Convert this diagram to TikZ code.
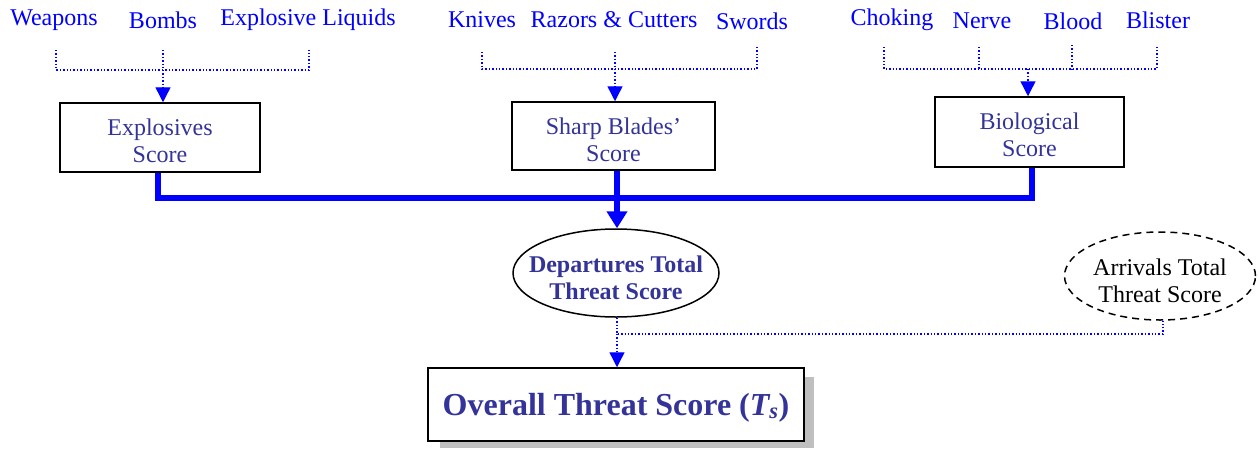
\documentclass[tikz,border=0pt]{standalone}
\usepackage{fontspec}
\setmainfont{Liberation Serif}
\usetikzlibrary{arrows.meta,shapes.geometric}
\definecolor{lblue}{RGB}{0,0,255}
\definecolor{dblue}{RGB}{51,51,153}
\tikzset{
  lbl/.style={text=lblue,font=\fontsize{24}{26}\selectfont,inner sep=0pt},
  scorebox/.style={draw=black,line width=1.5pt,inner sep=0pt},
  boxtext/.style={text=dblue,font=\fontsize{24}{27}\selectfont,align=center,inner sep=0pt},
  dots/.style={draw=lblue,line width=1.4pt,dotted},
  dotarrow/.style={dots,-{Triangle[width=15pt,length=15pt]}},
  thick line/.style={draw=lblue,line width=6pt},
}
\begin{document}
\begin{tikzpicture}[x=1pt,y=-1pt]
\useasboundingbox (0,0) rectangle (1258,448);
% top labels
\node[lbl] (w) at (54,20) {Weapons};
\node[lbl] (b) at (163,20) {Bombs};
\node[lbl] (el) at (308,20) {Explosive Liquids};
\node[lbl] (kn) at (482,20) {Knives};
\node[lbl] (rc) at (614,20) {Razors \& Cutters};
\node[lbl] (sw) at (752,21) {Swords};
\node[lbl] (ch) at (892,20) {Choking};
\node[lbl] (ne) at (982,21) {Nerve};
\node[lbl] (bl) at (1073,21) {Blood};
\node[lbl] (bs) at (1158,20) {Blister};
% boxes
\node[scorebox,minimum width=200pt,minimum height=69pt] (ex) at (160,137.5) {};
\node[boxtext] (ext) at ([yshift=-3.5pt]ex.center) {Explosives\\Score};
\node[scorebox,minimum width=203pt,minimum height=68pt] (sb) at (613.5,136) {};
\node[boxtext] (sbt) at ([yshift=-3.5pt]sb.center) {Sharp Blades'\\Score};
\node[scorebox,minimum width=189pt,minimum height=70pt] (bio) at (1029.5,132) {};
\node[boxtext] (biot) at ([yshift=-3pt]bio.center) {Biological\\Score};
% ellipses
\node[ellipse,draw=black,line width=1.5pt,minimum width=206pt,minimum height=88pt,inner sep=0pt] (dep) at (616,273) {};
\node[boxtext,font=\bfseries\fontsize{24}{27}\selectfont] (dept) at ([yshift=-5pt]dep.center) {Departures Total\\Threat Score};
\node[ellipse,draw=black,line width=1.5pt,dashed,dash pattern=on 7pt off 5pt,minimum width=191pt,minimum height=88pt,inner sep=0pt] (arr) at (1160,276) {};
\node[boxtext,text=black] (arrt) at ([yshift=-5pt]arr.center) {Arrivals Total\\Threat Score};
% overall
\fill[black!25] (440,377) rectangle (814,448);
\node[draw=black,line width=1.5pt,fill=white,minimum width=376pt,minimum height=73pt,inner sep=0pt] (ov) at (616,404.5) {};
\node[boxtext,font=\bfseries\fontsize{32}{34}\selectfont] (ovt) at ([yshift=-3pt]ov.center) {Overall Threat Score (\textit{T\textsubscript{s}})};
% brackets 1
\coordinate (j1) at (163,70);
\draw[dots] (56,50) -- (56,70) -- (309,70) -- (309,50);
\draw[dots] (163,50) -- (j1);
\draw[dotarrow] (j1) -- (ex.north -| j1);
% brackets 2
\coordinate (j2) at (615,69);
\draw[dots] (482,52) -- (482,69) -- (757,69) -- (757,47);
\draw[dots] (615,52) -- (j2);
\draw[dotarrow] (j2) -- (sb.north -| j2);
% brackets 3
\coordinate (j3) at (1028,69);
\draw[dots] (884,47) -- (884,69) -- (1157,69) -- (1157,47);
\draw[dots] (979,47) -- (979,69);
\draw[dots] (1072,45) -- (1072,69);
\draw[dotarrow] (j3) -- (bio.north -| j3);
% thick connectors
\coordinate (h) at (617,198);
\draw[thick line] (ex.south -| 158,0) -- (158,198) -- (1032,198) -- (bio.south -| 1032,0);
\draw[thick line,-{Triangle[width=20pt,length=17pt]}] (sb.south -| h) -- (dep.north -| h);
% bottom dotted
\coordinate (k) at (617,334);
\draw[dots] (dep.south -| k) -- (k) -- (1163,334) -- (arr.south -| 1163,0);
\draw[dotarrow] (k) -- (ov.north -| k);
\end{tikzpicture}
\end{document}
